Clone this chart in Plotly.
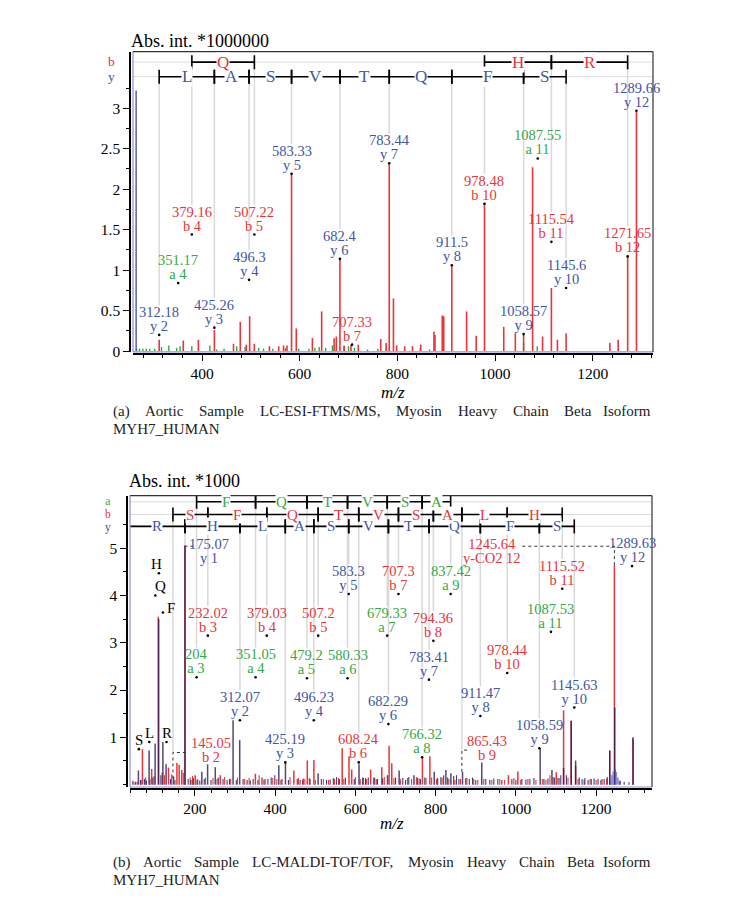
import plotly.graph_objects as go

W, H = 733, 899
SERIF = "Liberation Serif, serif"
RED = "#e8343a"
BLUE = "#3f55a5"
GREEN = "#35a845"
DARK = "#2a1b55"
LAV = "#8e8ed8"
GRAY = "#d9d9d9"

# ---------------- (a) LC-ESI-FTMS/MS ----------------
esi_red_mz = [312.2, 361.6, 392.5, 425.3, 464.5, 478.3, 490.6, 497.5, 507.1, 538, 557, 567, 574,
              583.3, 593, 626, 645, 670.5, 675, 682.4, 691, 705, 720, 766, 777, 783.4, 792,
              798.5, 815, 831, 848, 875, 877, 892, 895, 911.5, 941.8, 961.5, 978.5, 1017.9,
              1041.7, 1058.6, 1077, 1097.4, 1115.5, 1127.9, 1145.6, 1235.3, 1252.3, 1271.7, 1289.7]
esi_red_int = [0.14, 0.13, 0.14, 0.26, 0.09, 0.36, 0.08, 0.43, 0.09, 0.06, 0.06, 0.07, 0.07,
               2.18, 0.28, 0.16, 0.49, 0.16, 0.18, 1.14, 0.07, 0.08, 0.08, 0.15, 0.10, 2.32, 0.65,
               0.07, 0.06, 0.06, 0.08, 0.24, 0.20, 0.44, 0.43, 1.06, 0.49, 0.19, 1.82, 0.30,
               0.22, 0.20, 2.27, 0.18, 0.78, 0.14, 0.22, 0.10, 0.14, 1.17, 2.96]
esi_green_mz = [266, 272, 279, 286, 293, 303, 317, 332, 348, 355, 379, 416, 430, 445, 471, 488,
                516, 526, 545, 571, 598, 619, 631, 640, 653, 667, 691, 700, 712, 739, 760, 847,
                866, 1058.6, 1086.5]
esi_green_int = [0.03, 0.03, 0.03, 0.03, 0.03, 0.03, 0.05, 0.07, 0.04, 0.06, 0.06, 0.07, 0.02, 0.03,
                 0.06, 0.05, 0.04, 0.03, 0.03, 0.04, 0.03, 0.03, 0.04, 0.05, 0.04, 0.07, 0.06, 0.06,
                 0.04, 0.02, 0.03, 0.04, 0.02, 0.10, 0.06]
esi_blue_mz = [265.0]
esi_blue_int = [3.22]

esi_lab_txt = ["312.18", "351.17", "379.16", "425.26", "496.3", "507.22", "583.33", "682.4",
               "707.33", "783.44", "911.5", "978.48", "1058.57", "1087.55", "1115.54", "1145.6",
               "1271.65", "1289.66"]
esi_lab_ion = ["y 2", "a 4", "b 4", "y 3", "y 4", "b 5", "y 5", "y 6", "b 7", "y 7", "y 8",
               "b 10", "y 9", "a 11", "b 11", "y 10", "b 12", "y 12"]
esi_lab_dot = [0.20, 0.84, 1.44, 0.29, 0.88, 1.44, 2.19, 1.14, 0.08, 2.32, 1.06, 1.82, 0.21,
               2.38, 1.35, 0.78, 1.17, 2.97]

esi_y_ladder = [312.18, 425.26, 496.3, 583.33, 682.4, 783.44, 911.5, 1058.57, 1145.6]
esi_y_res = ["L", "A", "S", "V", "T", "Q", "F", "S"]
esi_b_from = [379.16, 978.48, 1115.54]
esi_b_to = [507.22, 1115.54, 1271.65]
esi_b_res = ["Q", "H", "R"]

# ---------------- (b) LC-MALDI-TOF/TOF ----------------
maldi_red_mz = [69, 92, 108.5, 134, 155, 160.6, 167, 175.07, 200.6, 263, 350.6, 367, 446.5, 480,
                496.5, 567, 584, 590.7, 638, 665.7, 684, 690.6, 767, 785.6, 981.5, 1005, 1100.6,
                1119, 1138, 1149, 1234, 1245.64, 1292]
maldi_red_int = [0.75, 0.33, 3.55, 0.36, 0.46, 0.42, 0.31, 5.05, 0.20, 0.20, 0.23, 0.15, 0.30, 0.51,
                 0.52, 0.77, 0.60, 0.32, 0.32, 0.37, 0.82, 0.45, 0.57, 0.60, 0.20, 0.28, 0.26,
                 1.57, 1.35, 0.40, 0.72, 4.64, 0.97]
maldi_dark_mz = [59, 85.6, 100.6, 109.5, 120, 128, 146.5, 175.07, 217, 231.5, 250.6, 295, 311.5,
                 409, 425.6, 507, 609, 680, 709, 746, 796.5, 825.6, 838, 867, 915, 1060.6, 1090,
                 1119, 1138, 1149, 1234, 1246.5, 1292]
maldi_dark_int = [0.30, 0.72, 0.87, 3.5, 0.90, 0.43, 0.17, 5.05, 0.27, 0.43, 0.37, 1.36, 0.94,
                  0.41, 0.50, 0.24, 0.43, 0.20, 0.30, 0.20, 0.27, 0.31, 0.24, 0.27, 0.47, 0.77, 0.31,
                  0.35, 1.35, 0.51, 0.72, 1.63, 1.00]
maldi_dark_noise_mz = [45, 52, 64, 74, 79, 95, 115, 139, 150, 183, 190, 196, 205, 212, 223, 240,
                       258, 270, 280, 286, 303, 320, 330, 338, 345, 357, 372, 382, 390, 399, 417,
                       433, 455, 462, 470, 487, 515, 528, 537, 545, 553, 560, 575, 597, 618, 625,
                       632, 648, 655, 668, 700, 718, 725, 733, 755, 762, 773, 805, 813, 820, 830,
                       845, 852, 858, 875, 884, 892, 900, 925, 935, 945, 955, 965, 990, 1000, 1015,
                       1025, 1035, 1045, 1070, 1080, 1096, 1105, 1112, 1126, 1158, 1165, 1172,
                       1180, 1188, 1195, 1205, 1212, 1220, 1228, 1260, 1270, 1282]
maldi_dark_noise_int = [0.08, 0.06, 0.10, 0.12, 0.09, 0.15, 0.20, 0.12, 0.10, 0.12, 0.10, 0.14,
                        0.10, 0.09, 0.12, 0.10, 0.15, 0.12, 0.10, 0.12, 0.10, 0.12, 0.10, 0.09,
                        0.12, 0.10, 0.11, 0.12, 0.15, 0.20, 0.12, 0.10, 0.12, 0.10, 0.13, 0.12,
                        0.12, 0.10, 0.11, 0.14, 0.16, 0.12, 0.15, 0.12, 0.15, 0.14, 0.15, 0.15,
                        0.12, 0.13, 0.15, 0.14, 0.10, 0.16, 0.14, 0.12, 0.15, 0.14, 0.16, 0.20,
                        0.15, 0.18, 0.20, 0.12, 0.14, 0.12, 0.15, 0.10, 0.12, 0.10, 0.13, 0.12,
                        0.10, 0.12, 0.10, 0.12, 0.11, 0.12, 0.14, 0.12, 0.13, 0.15, 0.14, 0.20,
                        0.20, 0.15, 0.12, 0.14, 0.10, 0.12, 0.13, 0.12, 0.10, 0.12, 0.16, 0.08,
                        0.06, 0.05]
maldi_red_noise_mz = [48, 56, 66, 77, 88, 98, 118, 124, 142, 171, 188, 194, 207, 226, 245, 255,
                      274, 289, 306, 324, 335, 360, 375, 394, 404, 414, 437, 458, 468, 474, 485,
                      500, 520, 533, 548, 558, 571, 600, 612, 620, 628, 645, 652, 672, 696, 712,
                      730, 740, 752, 759, 776, 790, 802, 816, 833, 848, 862, 878, 895, 905, 920,
                      940, 960, 972, 995, 1012, 1030, 1050, 1066, 1075, 1085, 1093, 1108, 1130,
                      1155, 1170, 1185, 1200, 1215, 1226, 1240]
maldi_red_noise_int = [0.05, 0.06, 0.10, 0.15, 0.12, 0.18, 0.25, 0.20, 0.22, 0.25, 0.15, 0.18,
                       0.12, 0.15, 0.14, 0.12, 0.16, 0.12, 0.15, 0.12, 0.14, 0.20, 0.12, 0.14,
                       0.12, 0.10, 0.16, 0.14, 0.10, 0.12, 0.14, 0.10, 0.12, 0.10, 0.12, 0.14,
                       0.12, 0.16, 0.12, 0.14, 0.12, 0.15, 0.12, 0.16, 0.14, 0.12, 0.14, 0.12,
                       0.16, 0.13, 0.14, 0.15, 0.12, 0.14, 0.12, 0.10, 0.12, 0.14, 0.12, 0.10,
                       0.12, 0.10, 0.12, 0.10, 0.14, 0.10, 0.12, 0.10, 0.12, 0.10, 0.20, 0.16,
                       0.14, 0.15, 0.12, 0.10, 0.12, 0.10, 0.12, 0.12, 0.20]
maldi_lav_mz = [1236, 1240, 1243, 1247, 1250, 1254, 1258]
maldi_lav_int = [0.12, 0.20, 0.28, 0.33, 0.27, 0.15, 0.08]

maldi_lab_txt = ["204", "232.02", "312.07", "351.05", "379.03", "425.19", "479.2", "496.23",
                 "507.2", "580.33", "583.3", "608.24", "679.33", "682.29", "707.3", "766.32",
                 "783.41", "794.36", "837.42", "911.47", "978.44", "1058.59", "1087.53",
                 "1115.52", "1145.63", "1289.63"]
maldi_lab_ion = ["a 3", "b 3", "y 2", "a 4", "b 4", "y 3", "a 5", "y 4", "b 5", "a 6", "y 5",
                 "b 6", "a 7", "y 6", "b 7", "a 8", "y 7", "b 8", "a 9", "y 8", "b 10", "y 9",
                 "a 11", "b 11", "y 10", "y 12"]
maldi_lab_dot = [2.27, 3.15, 1.36, 2.27, 3.15, 0.47, 2.25, 1.36, 3.15, 2.25, 4.03, 0.47, 3.15,
                 1.28, 4.03, 0.58, 2.22, 3.04, 4.03, 1.45, 2.36, 0.77, 3.23, 4.14, 1.63, 4.62]

# labels moved aside, joined to their peak by a dotted leader
maldi_off_txt = ["145.05", "175.07", "865.43", "1245.64"]
maldi_off_ion = ["b 2", "y 1", "b 9", "y-CO2 12"]
maldi_off_peak = [0.13, 5.05, 0.27, 4.64]

maldi_imm_res = ["S", "L", "Q", "H", "F", "R"]
maldi_imm_mz = [60.04, 86.1, 101.07, 110.07, 120.08, 129.11]
maldi_imm_dot = [0.75, 0.90, 4.00, 4.47, 3.64, 0.90]

maldi_a_ladder = [204, 351.05, 479.2, 580.33, 679.33, 766.32, 837.42]
maldi_a_res = ["F", "Q", "T", "V", "S", "A"]
maldi_b_ladder = [145.05, 232.02, 379.03, 507.2, 608.24, 707.3, 794.36, 865.43, 978.44, 1115.52]
maldi_b_res = ["S", "F", "Q", "T", "V", "S", "A", "L", "H"]
maldi_y_ladder = [19.02, 175.07, 312.07, 425.19, 496.23, 583.3, 682.29, 783.41, 911.47, 1058.59,
                  1145.63]
maldi_y_res = ["R", "H", "L", "A", "S", "V", "T", "Q", "F", "S"]

cap_a = ["(a)", "Aortic", "Sample", "LC-ESI-FTMS/MS,", "Myosin", "Heavy", "Chain", "Beta",
         "Isoform"]
cap_b = ["(b)", "Aortic", "Sample", "LC-MALDI-TOF/TOF,", "Myosin", "Heavy", "Chain", "Beta",
         "Isoform"]


def fx(p):
    return p / W


def fy(p):
    return 1 - p / H


# panel geometry in pixels
P = {
    "a": dict(xa="x", ya="y", px=(125, 645), py=(44, 347), xr=[258.6, 1323.6], yr=[-0.01, 3.70],
              ax_x=122, ax_y=349, rows={"b": 3.57, "y": 3.39}, lad=17, rowfont=13.5),
    "b": dict(xa="x2", ya="y2", px=(122, 644), py=(492, 786), xr=[38, 1339.4], yr=[-0.05, 6.11],
              ax_x=119, ax_y=788, rows={"a": 5.98, "b": 5.71, "y": 5.46}, lad=15, rowfont=11.5),
}
for p in P.values():
    p["ppu"] = (p["py"][1] - p["py"][0]) / (p["yr"][1] - p["yr"][0])

ION_COL = {"a": GREEN, "b": RED, "y": BLUE}
LAB_SIZE = 14.5   # glyph size of peak labels
LAB_BASE = 11     # base size, sets the (tight) line spacing of the two-line labels
LAB_TOP = 30      # px from the dot to the top of a two-line label

fig = go.Figure()
ann = []
shapes = []


def sticks(mz, h):
    xs, ys = [], []
    for m, v in zip(mz, h):
        xs += [m, m, None]
        ys += [0, v, None]
    return xs, ys


def add_sticks(p, mz, h, color, width=1.4, opacity=1.0):
    xs, ys = sticks(mz, h)
    fig.add_trace(go.Scatter(x=xs, y=ys, mode="lines", xaxis=p["xa"], yaxis=p["ya"],
                             line=dict(color=color, width=width), opacity=opacity,
                             hoverinfo="skip"))


def add_text(p, x, y, text, color, size=LAB_SIZE, yshift=0, xshift=0, xanchor="center",
             yanchor="middle", bg=None):
    ann.append(dict(x=x, y=y, xref=p["xa"], yref=p["ya"], text=text, showarrow=False,
                    font=dict(family=SERIF, size=size, color=color), xanchor=xanchor,
                    yanchor=yanchor, xshift=xshift, yshift=yshift, bgcolor=bg, borderpad=0))


def ion_color(ion):
    if ion.startswith("y-"):
        return RED
    return ION_COL[ion[0]]


def add_guides(p, xs_from, ys_to, row):
    xs, ys = [], []
    for m, e in zip(xs_from, ys_to):
        xs += [m, m, None]
        ys += [p["rows"][row], e, None]
    fig.add_trace(go.Scatter(x=xs, y=ys, mode="lines", xaxis=p["xa"], yaxis=p["ya"],
                             line=dict(color=GRAY, width=1.5), hoverinfo="skip"))


def add_ladder(p, row, starts, ends, res):
    yrow = p["rows"][row]
    xs, ys, tx = [], [], []
    for a, b in zip(starts, ends):
        xs += [a, b, None]
        ys += [yrow, yrow, None]
        tx += [a, b]
    fig.add_trace(go.Scatter(x=xs, y=ys, mode="lines", xaxis=p["xa"], yaxis=p["ya"],
                             line=dict(color="black", width=1.6), hoverinfo="skip"))
    fig.add_trace(go.Scatter(x=tx, y=[yrow] * len(tx), mode="markers", xaxis=p["xa"],
                             yaxis=p["ya"], hoverinfo="skip",
                             marker=dict(symbol="line-ns", size=10,
                                         line=dict(width=1.6, color="black"))))
    for a, b, r in zip(starts, ends, res):
        mid = (max(a, p["xr"][0]) + b) / 2
        add_text(p, mid, yrow, r, ION_COL[row], size=p["lad"], bg="white")


def add_dots(p, xs, ys):
    fig.add_trace(go.Scatter(x=xs, y=ys, mode="markers", xaxis=p["xa"], yaxis=p["ya"],
                             marker=dict(color="black", size=2.6), hoverinfo="skip"))


def add_label(p, x, y, num, ion):
    sp = "<span style='font-size:%gpx'>%s</span>"
    txt = sp % (LAB_SIZE, num) + "<br>" + sp % (LAB_SIZE, ion)
    add_text(p, x, y, txt, ion_color(ion), size=LAB_BASE, yanchor="bottom", yshift=0)


# ---------- panel (a) ----------
pa = P["a"]
lab_top_a = [d + LAB_TOP / pa["ppu"] for d in esi_lab_dot]
lab_mz_a = [float(t) for t in esi_lab_txt]
guides_y = [(m, e) for m, e in zip(lab_mz_a, lab_top_a) if m in esi_y_ladder]
guides_b = [(m, e) for m, e in zip(lab_mz_a, lab_top_a) if m in esi_b_from + esi_b_to]
add_guides(pa, [g[0] for g in guides_y], [g[1] for g in guides_y], "y")
add_guides(pa, [g[0] for g in guides_b], [g[1] for g in guides_b], "b")
add_sticks(pa, esi_green_mz, esi_green_int, GREEN)
add_sticks(pa, esi_red_mz, esi_red_int, RED, width=1.6)
add_sticks(pa, esi_blue_mz, esi_blue_int, "#4a55b0")
add_dots(pa, lab_mz_a, esi_lab_dot)
for t, i, d in zip(esi_lab_txt, esi_lab_ion, esi_lab_dot):
    add_label(pa, float(t), d, t, i)
add_ladder(pa, "y", esi_y_ladder[:-1], esi_y_ladder[1:], esi_y_res)
add_ladder(pa, "b", esi_b_from, esi_b_to, esi_b_res)

# ---------- panel (b) ----------
pb = P["b"]
off_tx = [240, 234, 929, 940]          # label centre (m/z units)
off_lvl = [0.40, 4.60, 0.43, 4.60]     # label base level
off_knee = [0.68, 5.04, 0.73, 5.04]    # height of leader corner
off_end = [180, 196, 885, 1012]        # end of horizontal leader

lab_mz_b = [float(t) for t in maldi_lab_txt]
lab_top_b = [d + LAB_TOP / pb["ppu"] for d in maldi_lab_dot]
all_mz = lab_mz_b + [float(t) for t in maldi_off_txt]
all_end = lab_top_b + off_knee
for row, lad in (("a", maldi_a_ladder), ("b", maldi_b_ladder), ("y", maldi_y_ladder)):
    sel = [(m, e) for m, e in zip(all_mz, all_end) if m in lad]
    add_guides(pb, [s[0] for s in sel], [s[1] for s in sel], row)

add_sticks(pb, maldi_red_noise_mz, maldi_red_noise_int, RED, width=1.1)
add_sticks(pb, maldi_red_mz, maldi_red_int, RED, width=1.5)
add_sticks(pb, maldi_lav_mz, maldi_lav_int, LAV, width=2)
add_sticks(pb, maldi_dark_noise_mz, maldi_dark_noise_int, DARK, width=1.1, opacity=0.85)
add_sticks(pb, maldi_dark_mz, maldi_dark_int, DARK, width=1.5, opacity=0.8)

# dotted leaders for displaced labels
lx, ly = [], []
for t, pk, kn, en in zip(maldi_off_txt, maldi_off_peak, off_knee, off_end):
    m = float(t)
    lx += [m, m, en, None]
    ly += [pk, kn, kn, None]
fig.add_trace(go.Scatter(x=lx, y=ly, mode="lines", xaxis="x2", yaxis="y2", hoverinfo="skip",
                         line=dict(color="#333333", width=1, dash="dot")))
for t, i, x, lv in zip(maldi_off_txt, maldi_off_ion, off_tx, off_lvl):
    add_label(pb, x, lv, t, i)

add_dots(pb, lab_mz_b + maldi_imm_mz, maldi_lab_dot + maldi_imm_dot)
for t, i, d in zip(maldi_lab_txt, maldi_lab_ion, maldi_lab_dot):
    add_label(pb, float(t), d, t, i)

imm_xshift = [0, 0, 5, -2, 3, 0]
imm_yshift = [9, 9, 9, 9, 4, 9]
imm_anchor = ["center", "center", "center", "center", "left", "center"]
for r, m, d, xs_, ys_, an in zip(maldi_imm_res, maldi_imm_mz, maldi_imm_dot, imm_xshift,
                                 imm_yshift, imm_anchor):
    add_text(pb, m, d, r, "black", size=15, xshift=xs_, yshift=ys_, xanchor=an)

add_ladder(pb, "y", maldi_y_ladder[:-1], maldi_y_ladder[1:], maldi_y_res)
add_ladder(pb, "b", maldi_b_ladder[:-1], maldi_b_ladder[1:], maldi_b_res)
add_ladder(pb, "a", maldi_a_ladder[:-1], maldi_a_ladder[1:], maldi_a_res)

# ---------- frames, row lines, outer text ----------
for key, p in P.items():
    xd = p["xa"] + " domain"
    yd = p["ya"] + " domain"
    rows = list(p["rows"].items())
    for row, yv in rows:
        shapes.append(dict(type="line", xref=xd, yref=p["ya"], x0=0, x1=1, y0=yv, y1=yv,
                           line=dict(color="#dcdcdc", width=1), layer="below"))
    # row names stacked in one text, base size chosen so line pitch equals the row pitch
    pitch = (rows[0][1] - rows[1][1]) * p["ppu"]
    stack = "<br>".join("<span style='font-size:%gpx;color:%s'>%s</span>"
                        % (p["rowfont"], ION_COL[r], r) for r, _ in rows)
    ymid = (rows[0][1] + rows[-1][1]) / 2
    ann.append(dict(x=fx(p["px"][0] - 22), y=ymid, xref="paper", yref=p["ya"], text=stack,
                    showarrow=False, xanchor="center", yanchor="middle",
                    font=dict(family=SERIF, size=pitch / 1.3, color="black")))
    shapes.append(dict(type="line", xref=xd, yref=yd, x0=0, x1=0, y0=0, y1=1,
                       line=dict(color=LAV, width=1.2)))
    shapes.append(dict(type="line", xref=xd, yref=yd, x0=0, x1=1, y0=0, y1=0,
                       line=dict(color=LAV, width=1.2)))
    shapes.append(dict(type="line", xref=xd, yref=yd, x0=0, x1=1, y0=1, y1=1,
                       line=dict(color="#333333", width=1.2)))
    shapes.append(dict(type="line", xref=xd, yref=yd, x0=1, x1=1, y0=0, y1=1,
                       line=dict(color="#333333", width=1.2)))

ann.append(dict(x=fx(121), y=fy(33), xref="paper", yref="paper", text="Abs. int. *1000000",
                showarrow=False, xanchor="left", yanchor="middle",
                font=dict(family=SERIF, size=18, color="black")))
ann.append(dict(x=fx(119), y=fy(477), xref="paper", yref="paper", text="Abs. int. *1000",
                showarrow=False, xanchor="left", yanchor="middle",
                font=dict(family=SERIF, size=18, color="black")))
ann.append(dict(x=fx(385), y=fy(388), xref="paper", yref="paper", text="<i>m/z</i>",
                showarrow=False, font=dict(family=SERIF, size=17, color="black")))
ann.append(dict(x=fx(384), y=fy(834), xref="paper", yref="paper", text="<i>m/z</i>",
                showarrow=False, font=dict(family=SERIF, size=17, color="black")))

# justified captions: Times advance widths (em) to spread the words over the line
TW = {c: 0.5 for c in "0123456789bdghknopquvxy_"}
TW.update({"a": .444, "c": .444, "e": .444, "z": .444, "f": .333, "r": .333, "i": .278,
           "j": .278, "l": .278, "t": .278, "s": .389, "m": .778, "w": .722,
           "A": .722, "B": .667, "C": .667, "D": .722, "E": .611, "F": .556, "G": .722,
           "H": .722, "I": .333, "L": .611, "M": .889, "N": .722, "O": .722, "P": .556,
           "R": .667, "S": .556, "T": .611, "U": .722, "Y": .722, "(": .333, ")": .333,
           "-": .333, "/": .278, ",": .25, ".": .25})
CAP_SIZE = 15


def justify(words, x0, x1, size):
    ws = [sum(TW.get(c, 0.5) for c in w) * size for w in words]
    gap = (x1 - x0 - sum(ws)) / (len(words) - 1)
    out, x = [], x0
    for w in ws:
        out.append(x)
        x += w + gap
    return out


for words, yline in ((cap_a, 407), (cap_b, 862)):
    xs = justify(words, 103, 645, CAP_SIZE)
    for k, (w_, x_) in enumerate(zip(words, xs)):
        last = k == len(words) - 1
        ann.append(dict(x=fx(645 if last else x_), y=fy(yline), xref="paper", yref="paper",
                        text=w_, showarrow=False, xanchor="right" if last else "left",
                        yanchor="middle", font=dict(family=SERIF, size=CAP_SIZE, color="#222222")))
    ann.append(dict(x=fx(103), y=fy(yline + 18), xref="paper", yref="paper", text="MYH7_HUMAN",
                    showarrow=False, xanchor="left", yanchor="middle",
                    font=dict(family=SERIF, size=CAP_SIZE, color="#222222")))

tick_font = dict(family=SERIF, size=15.5, color="black")


def xaxis_cfg(p):
    return dict(domain=[fx(p["px"][0]), fx(p["px"][1])], range=p["xr"], anchor="free",
                position=fy(p["ax_y"]), showline=True, linecolor="black", linewidth=1.5,
                ticks="outside", ticklen=6, tickwidth=1.3, tickcolor="black", dtick=200, tick0=0,
                minor=dict(dtick=40, tick0=0, ticks="outside", ticklen=3, tickcolor="black"),
                showgrid=False, zeroline=False, tickfont=tick_font)


def yaxis_cfg(p, **kw):
    d = dict(domain=[fy(p["py"][1]), fy(p["py"][0])], range=p["yr"], anchor="free",
             position=fx(p["ax_x"]), showline=True, linecolor="black", linewidth=1.5,
             ticks="outside", ticklen=6, tickwidth=1.3, tickcolor="black", showgrid=False,
             zeroline=False, tickfont=tick_font)
    d.update(kw)
    return d


fig.update_layout(
    width=W, height=H, margin=dict(l=0, r=0, t=0, b=0),
    paper_bgcolor="white", plot_bgcolor="white", showlegend=False,
    xaxis=xaxis_cfg(pa),
    yaxis=yaxis_cfg(pa, tickvals=[0, 0.5, 1, 1.5, 2, 2.5, 3],
                    ticktext=["0", "0.5", "1", "1.5", "2", "2.5", "3"],
                    minor=dict(tickvals=[0.25, 0.75, 1.25, 1.75, 2.25, 2.75, 3.25],
                               ticks="outside", ticklen=3, tickcolor="black")),
    xaxis2=xaxis_cfg(pb),
    yaxis2=yaxis_cfg(pb, tickvals=[1, 2, 3, 4, 5],
                     minor=dict(tickvals=[0, 0.5, 1.5, 2.5, 3.5, 4.5, 5.5],
                                ticks="outside", ticklen=3, tickcolor="black")),
    annotations=ann, shapes=shapes,
)

fig.write_html("out.html")
